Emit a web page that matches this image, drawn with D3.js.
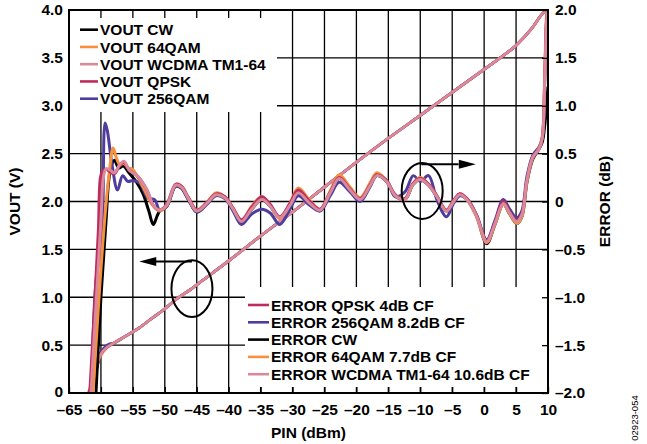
<!DOCTYPE html>
<html>
<head>
<meta charset="utf-8">
<script src="https://cdn.jsdelivr.net/npm/d3@7"></script>
<style>
  html, body { margin: 0; padding: 0; background: #fff; }
  svg { display: block; font-family: "Liberation Sans", Arial, sans-serif; }
  .lbl { font-size: 15.5px; font-weight: bold; fill: #000; }
</style>
</head>
<body>
<div id="chart"></div>
<script>
// ---- data ----
var pinTicks = [-65, -60, -55, -50, -45, -40, -35, -30, -25, -20, -15, -10, -5, 0, 5, 10];
var voutTicks = [0, 0.5, 1, 1.5, 2, 2.5, 3, 3.5, 4];
var errTicks = [-2, -1.5, -1, -0.5, 0, 0.5, 1, 1.5, 2];

var seriesKeys = ["cw", "qam64", "wcdma", "qpsk", "qam256"];
var voutNames = ["VOUT CW", "VOUT 64QAM", "VOUT WCDMA TM1-64", "VOUT QPSK", "VOUT 256QAM"];
var errLegendKeys = ["qpsk", "qam256", "cw", "qam64", "wcdma"];
var errNames = ["ERROR QPSK 4dB CF", "ERROR 256QAM 8.2dB CF", "ERROR CW", "ERROR 64QAM 7.7dB CF", "ERROR WCDMA TM1-64 10.6dB CF"];

// VOUT (V) vs PIN (dBm): steep start differs a little, then one common line
var voutStartCw = [[-61.5, 0], [-60.8, 0.2], [-60.3, 0.35], [-59.5, 0.45]];
var voutStart64 = [[-62.0, 0], [-61.1, 0.18], [-60.4, 0.34], [-59.5, 0.44]];
var voutStartWcdma = [[-61.7, 0], [-60.9, 0.2], [-60.4, 0.35], [-59.5, 0.45]];
var voutStartQpsk = [[-61.9, 0], [-61.0, 0.2], [-60.5, 0.35], [-59.5, 0.45]];
var voutStart256 = [[-61.6, 0], [-60.9, 0.25], [-60.4, 0.38], [-59.4, 0.48], [-58.8, 0.51]];
var voutTail = [[-58, 0.52], [-56, 0.60], [-54, 0.68], [-52, 0.78], [-50, 0.88], [-48, 0.99],
  [-46, 1.08], [-44, 1.18], [-40, 1.38], [-35, 1.64], [-30, 1.89], [-25, 2.15], [-20, 2.41],
  [-15, 2.66], [-10, 2.90], [-5, 3.14], [0, 3.38], [2.5, 3.50], [5, 3.63], [7.5, 3.81],
  [9.3, 3.97], [10, 4.0]];

// ERROR (dB): start of each curve
var errStartCw = [[-61.0, -2.3], [-60.0, -1.0], [-59.2, -0.2], [-58.6, 0.30], [-57.9, 0.43], [-57.2, 0.35],
  [-56.5, 0.37], [-55.6, 0.30], [-54.4, 0.20], [-53.4, 0.08], [-52.5, -0.10], [-51.8, -0.24], [-51.2, -0.15]];
var errStart64 = [[-61.5, -2.3], [-60.3, -1.0], [-59.3, -0.1], [-58.7, 0.30], [-58.1, 0.56], [-57.6, 0.46],
  [-57.0, 0.38], [-56.5, 0.40], [-55.7, 0.35], [-55.1, 0.34], [-54.2, 0.25], [-53.0, 0.10], [-51.9, -0.04]];
var errStartWcdma = [[-61.8, -2.3], [-60.7, -1.0], [-60.0, -0.2], [-59.6, 0.26], [-59.2, 0.34], [-58.6, 0.33],
  [-57.9, 0.30], [-57.1, 0.38], [-56.4, 0.42], [-55.6, 0.33], [-54.2, 0.26], [-52.8, 0.12], [-51.7, -0.05]];
var errStartQpsk = [[-62.0, -2.3], [-61.0, -1.1], [-60.4, -0.3], [-60.1, 0.24], [-59.8, 0.31], [-59.2, 0.34],
  [-58.6, 0.31], [-57.9, 0.29], [-57.1, 0.37], [-56.4, 0.41], [-55.6, 0.33], [-54.2, 0.26], [-52.8, 0.12], [-51.7, -0.05]];
var errStart256 = [[-61.6, -2.3], [-60.8, -0.85], [-60.0, -0.45], [-59.7, -0.1], [-59.35, 0.82], [-59.0, 0.74],
  [-58.3, 0.40], [-57.4, 0.12], [-56.6, 0.27], [-55.8, 0.21], [-55.0, 0.22], [-53.9, 0.19], [-52.6, 0.03], [-51.6, 0.02]];

// ERROR (dB): the ripple, same PIN points for every curve
var ripplePin = [-50.8, -49.7, -48.3, -47.4, -46.3, -45.0, -43.4, -42.0, -40.6, -39.3,
  -38.0, -36.4, -34.8, -33.5, -32.0, -30.4, -29.1, -27.3, -25.7, -24.1,
  -22.7, -21.0, -19.4, -17.9, -16.8, -15.3, -13.9, -12.4, -11.1, -10.0,
  -8.7, -7.4, -5.9, -4.8, -3.8, -2.7, -1.2, 0.4, 1.7, 3.0,
  4.0, 5.1, 5.9, 6.7, 7.6, 8.6, 9.1, 9.5, 9.8, 10.0];
var errCw = [-0.10, -0.05, 0.16, 0.14, 0.02, -0.11, -0.02, 0.07, 0.04, -0.08,
  -0.21, -0.08, 0.02, -0.05, -0.17, -0.04, 0.09, -0.02, -0.09, 0.09,
  0.24, 0.12, 0.02, 0.16, 0.27, 0.21, 0.06, 0.02, 0.18, 0.23,
  0.17, 0.05, -0.10, 0.00, 0.07, 0.02, -0.15, -0.44, -0.24, -0.03,
  -0.13, -0.23, -0.16, 0.20, 0.44, 0.55, 0.62, 0.80, 1.02, 1.20];
var err64 = [-0.10, -0.04, 0.18, 0.16, 0.04, -0.09, -0.01, 0.09, 0.05, -0.07,
  -0.20, -0.05, 0.05, -0.04, -0.18, -0.02, 0.14, 0.01, -0.08, 0.11,
  0.28, 0.15, 0.04, 0.19, 0.30, 0.22, 0.07, 0.03, 0.19, 0.25,
  0.18, 0.06, -0.10, 0.00, 0.08, 0.02, -0.16, -0.43, -0.24, -0.03,
  -0.13, -0.23, -0.16, 0.20, 0.45, 0.56, 0.68, 1.35, 1.95, 2.00];
var errWcdma = [-0.09, -0.04, 0.17, 0.15, 0.03, -0.10, -0.02, 0.07, 0.04, -0.08,
  -0.21, -0.08, 0.02, -0.05, -0.17, -0.04, 0.09, -0.02, -0.09, 0.09,
  0.24, 0.12, 0.02, 0.16, 0.27, 0.21, 0.06, 0.02, 0.18, 0.23,
  0.17, 0.05, -0.10, 0.00, 0.07, 0.02, -0.15, -0.42, -0.23, -0.02,
  -0.12, -0.21, -0.14, 0.22, 0.46, 0.55, 0.66, 1.30, 1.90, 2.00];
var errQpsk = [-0.09, -0.03, 0.18, 0.16, 0.04, -0.09, -0.01, 0.08, 0.05, -0.07,
  -0.19, -0.06, 0.05, -0.03, -0.16, -0.02, 0.12, 0.00, -0.08, 0.10,
  0.25, 0.13, 0.03, 0.17, 0.28, 0.22, 0.07, 0.03, 0.19, 0.24,
  0.18, 0.06, -0.09, 0.01, 0.08, 0.03, -0.14, -0.41, -0.22, 0.00,
  -0.11, -0.20, -0.13, 0.22, 0.46, 0.55, 0.66, 1.30, 1.92, 2.00];
var err256 = [-0.09, -0.05, 0.16, 0.14, 0.02, -0.11, -0.03, 0.06, 0.03, -0.10,
  -0.24, -0.13, -0.08, -0.12, -0.24, -0.08, 0.06, -0.04, -0.10, 0.06,
  0.20, 0.10, 0.00, 0.15, 0.27, 0.22, 0.05, 0.10, 0.27, 0.21,
  0.27, 0.02, -0.16, -0.02, 0.06, 0.03, -0.14, -0.40, -0.20, 0.02,
  -0.08, -0.17, -0.10, 0.26, 0.48, 0.57, 0.66, 1.30, 1.90, 2.00];

var colors = { cw: "#000000", qam64: "#f7913d", wcdma: "#d9899b", qpsk: "#bd2d5f", qam256: "#4e3d9e" };

(function () {
  'use strict';
  var width = 647, height = 444;
  var left = 69, right = 548, top = 10, bottom = 393;

  var voutStart = { cw: voutStartCw, qam64: voutStart64, wcdma: voutStartWcdma, qpsk: voutStartQpsk, qam256: voutStart256 };
  var errStart = { cw: errStartCw, qam64: errStart64, wcdma: errStartWcdma, qpsk: errStartQpsk, qam256: errStart256 };
  var errBody = { cw: errCw, qam64: err64, wcdma: errWcdma, qpsk: errQpsk, qam256: err256 };

  var x = d3.scaleLinear().domain([-65, 10]).range([left, right]);
  var yV = d3.scaleLinear().domain([0, 4]).range([bottom, top]);
  var yE = d3.scaleLinear().domain([-2, 2]).range([bottom, top]);

  function fmt(d) {
    if (d === 0) { return "0"; }
    return (d < 0 ? "\u2013" : "") + Math.abs(d).toFixed(1);
  }
  function fmtPin(d) {
    return (d < 0 ? "\u2013" : "") + Math.abs(d);
  }

  var svg = d3.select("#chart").append("svg")
    .attr("width", width)
    .attr("height", height);

  svg.append("clipPath").attr("id", "plotclip")
    .append("rect")
    .attr("x", left).attr("y", top)
    .attr("width", right - left).attr("height", bottom - top);

  // grid
  var grid = svg.append("g").attr("stroke", "#000").attr("stroke-width", 1.3);
  grid.selectAll("line.v")
    .data(pinTicks.filter(function (d) { return d > -65 && d < 10; }))
    .enter().append("line")
    .attr("x1", function (d) { return x(d); }).attr("x2", function (d) { return x(d); })
    .attr("y1", top).attr("y2", bottom);
  grid.selectAll("line.h")
    .data(voutTicks.filter(function (d) { return d > 0 && d < 4; }))
    .enter().append("line")
    .attr("y1", function (d) { return yV(d); }).attr("y2", function (d) { return yV(d); })
    .attr("x1", left).attr("x2", right);

  // legend backgrounds hide the grid
  svg.append("rect").attr("x", left).attr("y", 18).attr("width", 208).attr("height", 94).attr("fill", "#fff");
  svg.append("rect").attr("x", 245).attr("y", 287).attr("width", right - 245).attr("height", 100).attr("fill", "#fff");

  // curves
  var plot = svg.append("g").attr("clip-path", "url(#plotclip)");
  var lineV = d3.line()
    .x(function (d) { return x(d[0]); })
    .y(function (d) { return yV(d[1]); })
    .curve(d3.curveMonotoneX);
  var lineE = d3.line()
    .x(function (d) { return x(d[0]); })
    .y(function (d) { return yE(d[1]); })
    .curve(d3.curveCatmullRom.alpha(0.5));

  var drawOrder = ["cw", "qam256", "qam64", "qpsk", "wcdma"];
  drawOrder.forEach(function (k) {
    plot.append("path")
      .datum(voutStart[k].concat(voutTail))
      .attr("fill", "none")
      .attr("stroke", colors[k])
      .attr("stroke-width", 2.6)
      .attr("stroke-linejoin", "round")
      .attr("d", lineV);
  });
  drawOrder.forEach(function (k) {
    var pts = errStart[k].concat(ripplePin.map(function (p, i) { return [p, errBody[k][i]]; }));
    plot.append("path")
      .datum(pts)
      .attr("fill", "none")
      .attr("stroke", colors[k])
      .attr("stroke-width", 3)
      .attr("stroke-linejoin", "round")
      .attr("d", lineE);
  });

  // callouts
  var ann = svg.append("g").attr("stroke", "#000").attr("stroke-width", 2).attr("fill", "none");
  ann.append("ellipse").attr("cx", x(-45.75)).attr("cy", yV(1.09)).attr("rx", 20.5).attr("ry", 28.3);
  ann.append("line").attr("x1", x(-45.75)).attr("x2", x(-51.5)).attr("y1", yV(1.373)).attr("y2", yV(1.373));
  svg.append("path").attr("fill", "#000")
    .attr("d", "M" + x(-54) + "," + yV(1.373) + "l17,-4.5v9z");
  ann.append("ellipse").attr("cx", x(-9.7)).attr("cy", yE(0.11)).attr("rx", 20.5).attr("ry", 28);
  ann.append("line").attr("x1", x(-9.85)).attr("x2", x(-4)).attr("y1", yE(0.39)).attr("y2", yE(0.39));
  svg.append("path").attr("fill", "#000")
    .attr("d", "M" + x(-1.3) + "," + yE(0.39) + "l-17,-4.5v9z");

  // axes
  var xAxis = svg.append("g").attr("class", "lbl")
    .attr("transform", "translate(0," + bottom + ")")
    .call(d3.axisBottom(x).tickValues(pinTicks).tickFormat(fmtPin).tickSize(-6).tickPadding(11));
  var yAxisL = svg.append("g").attr("class", "lbl")
    .attr("transform", "translate(" + left + ",0)")
    .call(d3.axisLeft(yV).tickValues(voutTicks).tickFormat(fmt).tickSize(0).tickPadding(6));
  var yAxisR = svg.append("g").attr("class", "lbl")
    .attr("transform", "translate(" + right + ",0)")
    .call(d3.axisRight(yE).tickValues(errTicks).tickFormat(fmt).tickSize(-6).tickPadding(7));
  [xAxis, yAxisL, yAxisR].forEach(function (a) {
    a.select(".domain").remove();
    a.attr("font-size", null).attr("font-family", null);
    a.selectAll(".tick line").attr("stroke", "#000").attr("stroke-width", 1.3);
    a.selectAll(".tick text").attr("fill", "#000");
  });
  // the "0" on the left sits a hair high, as in the original
  yAxisL.selectAll(".tick text").filter(function (d) { return d === 0; }).attr("dy", "0.2em");

  // frame
  svg.append("rect")
    .attr("x", left).attr("y", top)
    .attr("width", right - left).attr("height", bottom - top)
    .attr("fill", "none").attr("stroke", "#000").attr("stroke-width", 2);

  // legends
  var legTop = svg.append("g");
  voutNames.forEach(function (name, i) {
    var yy = 29.7 + i * 17.25;
    legTop.append("line").attr("x1", 80).attr("x2", 98).attr("y1", yy).attr("y2", yy)
      .attr("stroke", colors[seriesKeys[i]]).attr("stroke-width", 2.6);
    legTop.append("text").attr("class", "lbl").attr("x", 100).attr("y", yy).attr("dy", "0.36em").text(name);
  });
  var legBot = svg.append("g");
  errNames.forEach(function (name, i) {
    var yy = 305 + i * 17.3;
    legBot.append("line").attr("x1", 248).attr("x2", 269).attr("y1", yy).attr("y2", yy)
      .attr("stroke", colors[errLegendKeys[i]]).attr("stroke-width", 2.6);
    legBot.append("text").attr("class", "lbl").attr("x", 271).attr("y", yy).attr("dy", "0.36em").text(name);
  });

  // titles
  svg.append("text").attr("class", "lbl").attr("text-anchor", "middle")
    .attr("x", (left + right) / 2).attr("y", 438).text("PIN (dBm)");
  svg.append("text").attr("class", "lbl").attr("text-anchor", "middle")
    .attr("transform", "translate(20," + ((top + bottom) / 2) + ") rotate(-90)").text("VOUT (V)");
  svg.append("text").attr("class", "lbl").attr("text-anchor", "middle")
    .attr("transform", "translate(610," + ((top + bottom) / 2) + ") rotate(-90)").text("ERROR (dB)");
  svg.append("text").attr("text-anchor", "middle")
    .attr("font-size", "9.5px").attr("fill", "#000")
    .attr("transform", "translate(638,418) rotate(-90)").text("02923-054");
})();
</script>
</body>
</html>
